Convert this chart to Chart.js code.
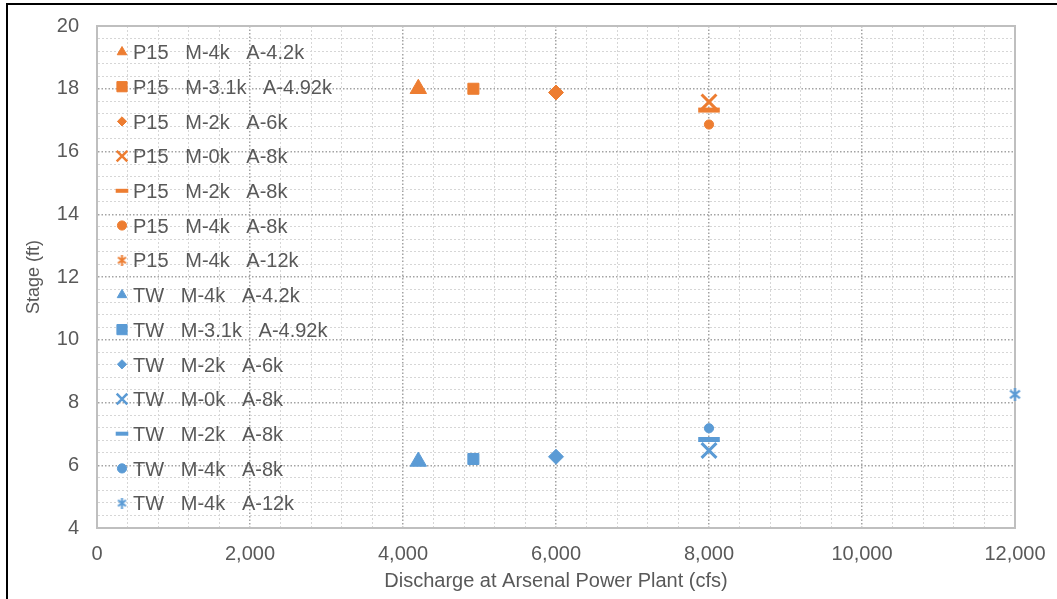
<!DOCTYPE html>
<html>
<head>
<meta charset="utf-8">
<script src="https://cdn.jsdelivr.net/npm/chart.js@4.4.1/dist/chart.umd.min.js"></script>
<style>
html,body{margin:0;padding:0;background:#fff;overflow:hidden;}
#wrap{position:relative;width:1057px;height:599px;background:#fff;}
#frame{position:absolute;left:6px;top:3px;width:1200px;height:700px;border-left:2px solid #000;border-top:2px solid #000;pointer-events:none;}
</style>
</head>
<body>
<div id="wrap"><canvas id="c" width="1057" height="599"></canvas><div id="frame"></div></div>
<script>
// ---- data ----
const runLabels = ['M-4k   A-4.2k', 'M-3.1k   A-4.92k', 'M-2k   A-6k', 'M-0k   A-8k', 'M-2k   A-8k', 'M-4k   A-8k', 'M-4k   A-12k'];
const discharge = [4200, 4920, 6000, 8000, 8000, 8000, 12000];   // cfs
const p15Stage  = [18.0, 18.0, 17.88, 17.58, 17.32, 16.86, null]; // ft
const twStage   = [6.12, 6.2, 6.27, 6.47, 6.82, 7.18, 8.26];      // ft
const xTickLabels = [0, 2000, 4000, 6000, 8000, 10000, 12000];
const yTickLabels = [4, 6, 8, 10, 12, 14, 16, 18, 20];

// ---- styles ----
const ORANGE = '#ED7D31', BLUE = '#5B9BD5', TEXT = '#595959';
const FONT = '"Liberation Sans", Arial, sans-serif';

function makeAsterisk(color, size, lw) {
  const c = document.createElement('canvas');
  c.width = size; c.height = size;
  const g = c.getContext('2d');
  g.strokeStyle = color; g.lineWidth = lw;
  const p = lw / 2 + 0.5, q = size - p, m = size / 2;
  g.beginPath();
  g.moveTo(p, p + 1); g.lineTo(q, q - 1);
  g.moveTo(q, p + 1); g.lineTo(p, q - 1);
  g.moveTo(m, 0); g.lineTo(m, size);
  g.stroke();
  return c;
}

const markerStyles = [
  {pointStyle: 'triangle', radius: 9.5, borderWidth: 1, legendRadius: 5.5, legendBorder: 1},
  {pointStyle: 'rect', radius: 7.8, borderWidth: 1, legendRadius: 7.2, legendBorder: 1},
  {pointStyle: 'rectRot', radius: 7.5, borderWidth: 1, legendRadius: 4.6, legendBorder: 1},
  {pointStyle: 'crossRot', radius: 10.5, borderWidth: 3, legendRadius: 7.5, legendBorder: 2.5},
  {pointStyle: 'line', radius: 10.8, borderWidth: 5, legendRadius: 6.3, legendBorder: 4},
  {pointStyle: 'circle', radius: 4.6, borderWidth: 1, legendRadius: 4.6, legendBorder: 1},
  {pointStyle: 'star', radius: 6, borderWidth: 2, legendRadius: 5, legendBorder: 2}
];

function buildSeries(prefix, stages, color) {
  return runLabels.map((lab, i) => {
    const st = markerStyles[i];
    const pts = (stages[i] === null) ? [] : [{x: discharge[i], y: stages[i]}];
    const ps = st.pointStyle === 'star' ? makeAsterisk(color, 13, 2.2) : st.pointStyle;
    const lps = st.pointStyle === 'star' ? makeAsterisk(color, 11, 2) : st.pointStyle;
    return {
      label: prefix + '   ' + lab,
      data: pts,
      pointStyle: ps,
      legendPointStyle: lps,
      pointRadius: st.radius,
      pointHoverRadius: st.radius,
      pointBorderWidth: st.borderWidth,
      legendRadius: st.legendRadius,
      legendBorder: st.legendBorder,
      backgroundColor: color,
      borderColor: color,
      showLine: false,
      clip: false
    };
  });
}

const datasets = buildSeries('P15', p15Stage, ORANGE).concat(buildSeries('TW', twStage, BLUE));

const framePlugin = {
  id: 'plotFrame',
  beforeDatasetsDraw(chart) {
    const {ctx, chartArea: a} = chart;
    ctx.save();
    ctx.strokeStyle = '#bfbfbf';
    ctx.lineWidth = 2;
    ctx.strokeRect(a.left, a.top, a.right - a.left, a.bottom - a.top);
    ctx.restore();
  }
};

const legendPlugin = {
  id: 'insideLegend',
  afterDatasetsDraw(chart) {
    const {ctx, chartArea: a} = chart;
    ctx.save();
    ctx.font = '20px ' + FONT;
    ctx.textBaseline = 'alphabetic';
    ctx.textAlign = 'left';
    chart.data.datasets.forEach((ds, i) => {
      const cy = a.top + 26 + i * 34.7;
      const cx = a.left + 25;
      ctx.fillStyle = ds.backgroundColor;
      ctx.strokeStyle = ds.borderColor;
      ctx.lineWidth = ds.legendBorder;
      Chart.helpers.drawPoint(ctx, {pointStyle: ds.legendPointStyle, radius: ds.legendRadius, rotation: 0, borderWidth: ds.legendBorder}, cx, cy);
      ctx.fillStyle = TEXT;
      ctx.fillText(ds.label, a.left + 36, cy + 7.2);
    });
    ctx.restore();
  }
};

function isMajor(v, list) { return list.some(t => Math.abs(t - v) < 1e-6); }
function zeroPad(s) { s.paddingTop = 0; s.paddingBottom = 0; s.paddingLeft = 0; s.paddingRight = 0; }

new Chart(document.getElementById('c'), {
  type: 'scatter',
  data: {datasets},
  plugins: [framePlugin, legendPlugin],
  options: {
    responsive: false,
    devicePixelRatio: 1,
    animation: false,
    layout: {padding: {left: 0, top: 26, right: 42, bottom: 0}},
    plugins: {legend: {display: false}, tooltip: {enabled: false}},
    scales: {
      x: {
        type: 'linear', min: 0, max: 12000,
        afterFit(s) { s.height = 71; zeroPad(s); },
        ticks: {
          stepSize: 400, autoSkip: false, maxRotation: 0, padding: 14,
          color: TEXT, font: {family: FONT, size: 20},
          callback: v => isMajor(v, xTickLabels) ? Number(v).toLocaleString('en-US') : ''
        },
        grid: {
          drawTicks: false,
          color: c => isMajor(c.tick.value, xTickLabels) ? '#a3a3a3' : '#d6d6d6',
          lineWidth: c => isMajor(c.tick.value, xTickLabels) ? 1.5 : 1
        },
        border: {color: '#bfbfbf', width: 2, dash: c => (c.tick && isMajor(c.tick.value, xTickLabels)) ? [1.5, 2] : [2, 2]},
        title: {display: true, text: 'Discharge at Arsenal Power Plant (cfs)', color: TEXT, font: {family: FONT, size: 20}, padding: {top: 0, bottom: 6}}
      },
      y: {
        type: 'linear', min: 4, max: 20,
        afterFit(s) { s.width = 97; zeroPad(s); },
        ticks: {
          stepSize: 0.4, autoSkip: false, padding: 18,
          color: TEXT, font: {family: FONT, size: 20},
          callback: v => isMajor(v, yTickLabels) ? String(Math.round(v)) : ''
        },
        grid: {
          drawTicks: false,
          color: c => isMajor(c.tick.value, yTickLabels) ? '#a3a3a3' : '#d6d6d6',
          lineWidth: c => isMajor(c.tick.value, yTickLabels) ? 1.5 : 1
        },
        border: {color: '#bfbfbf', width: 2, dash: c => (c.tick && isMajor(c.tick.value, yTickLabels)) ? [1.5, 2] : [2, 2]},
        title: {display: true, text: 'Stage (ft)', color: TEXT, font: {family: FONT, size: 18}, padding: {top: 23, bottom: 0}}
      }
    }
  }
});
</script>
</body>
</html>
